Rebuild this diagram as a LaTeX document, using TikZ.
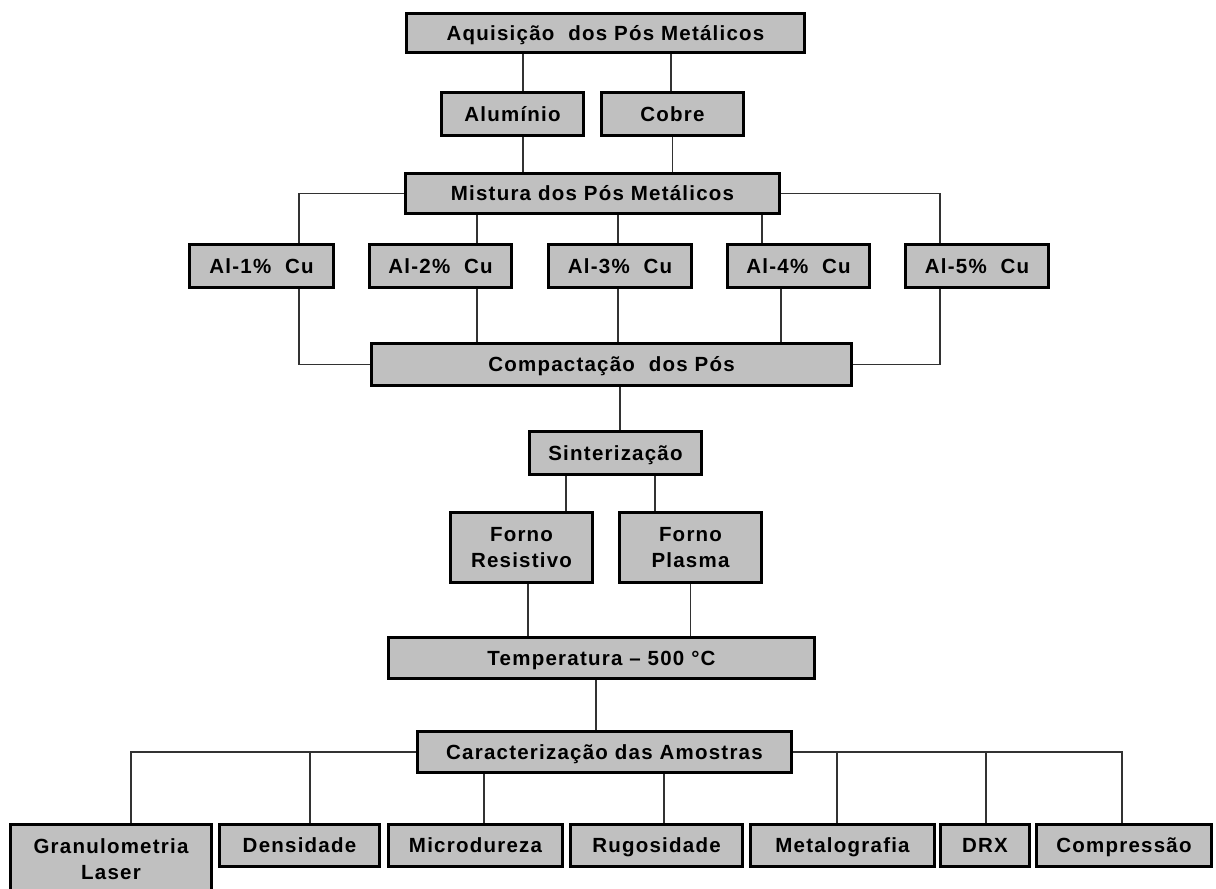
\documentclass[tikz,border=0pt]{standalone}
\usepackage{fontspec}
\setmainfont{Liberation Sans}[LetterSpace=6]
\usepackage{tikz}
\definecolor{boxgray}{RGB}{192,192,192}
\definecolor{wiregray}{RGB}{50,50,50}

\begin{document}
\begin{tikzpicture}[x=1pt,y=-1pt,
  main node/.style={draw=black,line width=3pt,fill=boxgray,inner sep=0pt,
    text height=14.5pt,text depth=0pt,font=\fontsize{20.5}{26}\selectfont\bfseries},
  two lines/.style={main node,text height=,text depth=,align=center,
    font=\fontsize{20.5}{26.5}\selectfont\bfseries},
  wire/.style={draw=wiregray,line width=1.4pt}]
  \useasboundingbox (0,0) rectangle (1216,889);
  \clip (0,0) rectangle (1216,889);

  \node[main node,minimum width=398pt,minimum height=39pt] (1) at (605.5,33) {Aquisição~ dos Pós Metálicos};
  \node[main node,minimum width=142pt,minimum height=43pt] (2) at (512.5,114) {Alumínio};
  \node[main node,minimum width=142pt,minimum height=43pt] (3) at (672.5,114) {Cobre};
  \node[main node,minimum width=374pt,minimum height=40pt] (4) at (592.5,193.5) {Mistura dos Pós Metálicos};
  \node[main node,minimum width=144pt,minimum height=43pt] (5) at (261.5,266) {Al-1\%~ Cu};
  \node[main node,minimum width=142pt,minimum height=43pt] (6) at (440.5,266) {Al-2\%~ Cu};
  \node[main node,minimum width=143pt,minimum height=43pt] (7) at (620,266) {Al-3\%~ Cu};
  \node[main node,minimum width=142pt,minimum height=43pt] (8) at (798.5,266) {Al-4\%~ Cu};
  \node[main node,minimum width=143pt,minimum height=43pt] (9) at (977,266) {Al-5\%~ Cu};
  \node[main node,minimum width=480pt,minimum height=42pt] (10) at (611.5,364.5) {Compactação~ dos Pós};
  \node[main node,minimum width=172pt,minimum height=43pt] (11) at (615.5,453) {Sinterização};
  \node[two lines,minimum width=142pt,minimum height=70pt] (12) at (521.5,547.5) {Forno\\Resistivo};
  \node[two lines,minimum width=142pt,minimum height=70pt] (13) at (690.5,547.5) {Forno\\Plasma};
  \node[main node,minimum width=426pt,minimum height=41pt] (14) at (601.5,658) {Temperatura – 500 °C};
  \node[main node,minimum width=374pt,minimum height=41pt] (15) at (604.5,752) {Caracterização das Amostras};
  \node[two lines,minimum width=201pt,minimum height=69pt] (16) at (111,859) {Granulometria\\Laser};
  \node[main node,minimum width=160pt,minimum height=42pt] (17) at (299.5,845.5) {Densidade};
  \node[main node,minimum width=174pt,minimum height=42pt] (18) at (475.5,845.5) {Microdureza};
  \node[main node,minimum width=172pt,minimum height=42pt] (19) at (656.5,845.5) {Rugosidade};
  \node[main node,minimum width=184pt,minimum height=42pt] (20) at (842.5,845.5) {Metalografia};
  \node[main node,minimum width=89pt,minimum height=42pt] (21) at (985,845.5) {DRX};
  \node[main node,minimum width=175pt,minimum height=42pt] (22) at (1124,845.5) {Compressão};

  \path[wire]
    ([xshift=10.5pt]2.north |- 1.south) edge ([xshift=10.5pt]2.north)
    ([xshift=-1.5pt]3.north |- 1.south) edge ([xshift=-1.5pt]3.north)
    ([xshift=10.5pt]2.south) edge ([xshift=10.5pt]2.south |- 4.north)
    (3.south) edge (3.south |- 4.north)
    ([xshift=36.5pt]6.north |- 4.south) edge ([xshift=36.5pt]6.north)
    ([xshift=-2pt]7.north |- 4.south) edge ([xshift=-2pt]7.north)
    ([xshift=-36.5pt]8.north |- 4.south) edge ([xshift=-36.5pt]8.north)
    ([xshift=36.5pt]6.south) edge ([xshift=36.5pt]6.south |- 10.north)
    ([xshift=-2pt]7.south) edge ([xshift=-2pt]7.south |- 10.north)
    ([xshift=-17.5pt]8.south) edge ([xshift=-17.5pt]8.south |- 10.north)
    ([xshift=4.5pt]11.north |- 10.south) edge ([xshift=4.5pt]11.north)
    ([xshift=44.5pt]12.north |- 11.south) edge ([xshift=44.5pt]12.north)
    ([xshift=-35.5pt]13.north |- 11.south) edge ([xshift=-35.5pt]13.north)
    ([xshift=6.5pt]12.south) edge ([xshift=6.5pt]12.south |- 14.north)
    (13.south) edge (13.south |- 14.north)
    ([xshift=-8.5pt]15.north |- 14.south) edge ([xshift=-8.5pt]15.north)
    ([xshift=10.5pt]17.north |- 15.west) edge ([xshift=10.5pt]17.north)
    ([xshift=8.5pt]18.north |- 15.south) edge ([xshift=8.5pt]18.north)
    ([xshift=7.5pt]19.north |- 15.south) edge ([xshift=7.5pt]19.north)
    ([xshift=-5.5pt]20.north |- 15.east) edge ([xshift=-5.5pt]20.north)
    ([xshift=1pt]21.north |- 15.east) edge ([xshift=1pt]21.north);
  \draw[wire] (4.west) -| ([xshift=37.5pt]5.north);
  \draw[wire] (4.east) -| ([xshift=-37pt]9.north);
  \draw[wire] ([xshift=37.5pt]5.south) |- (10.west);
  \draw[wire] ([xshift=-37pt]9.south) |- (10.east);
  \draw[wire] (15.west) -| ([xshift=20pt]16.north);
  \draw[wire] (15.east) -| ([xshift=-2pt]22.north);
\end{tikzpicture}
\end{document}
